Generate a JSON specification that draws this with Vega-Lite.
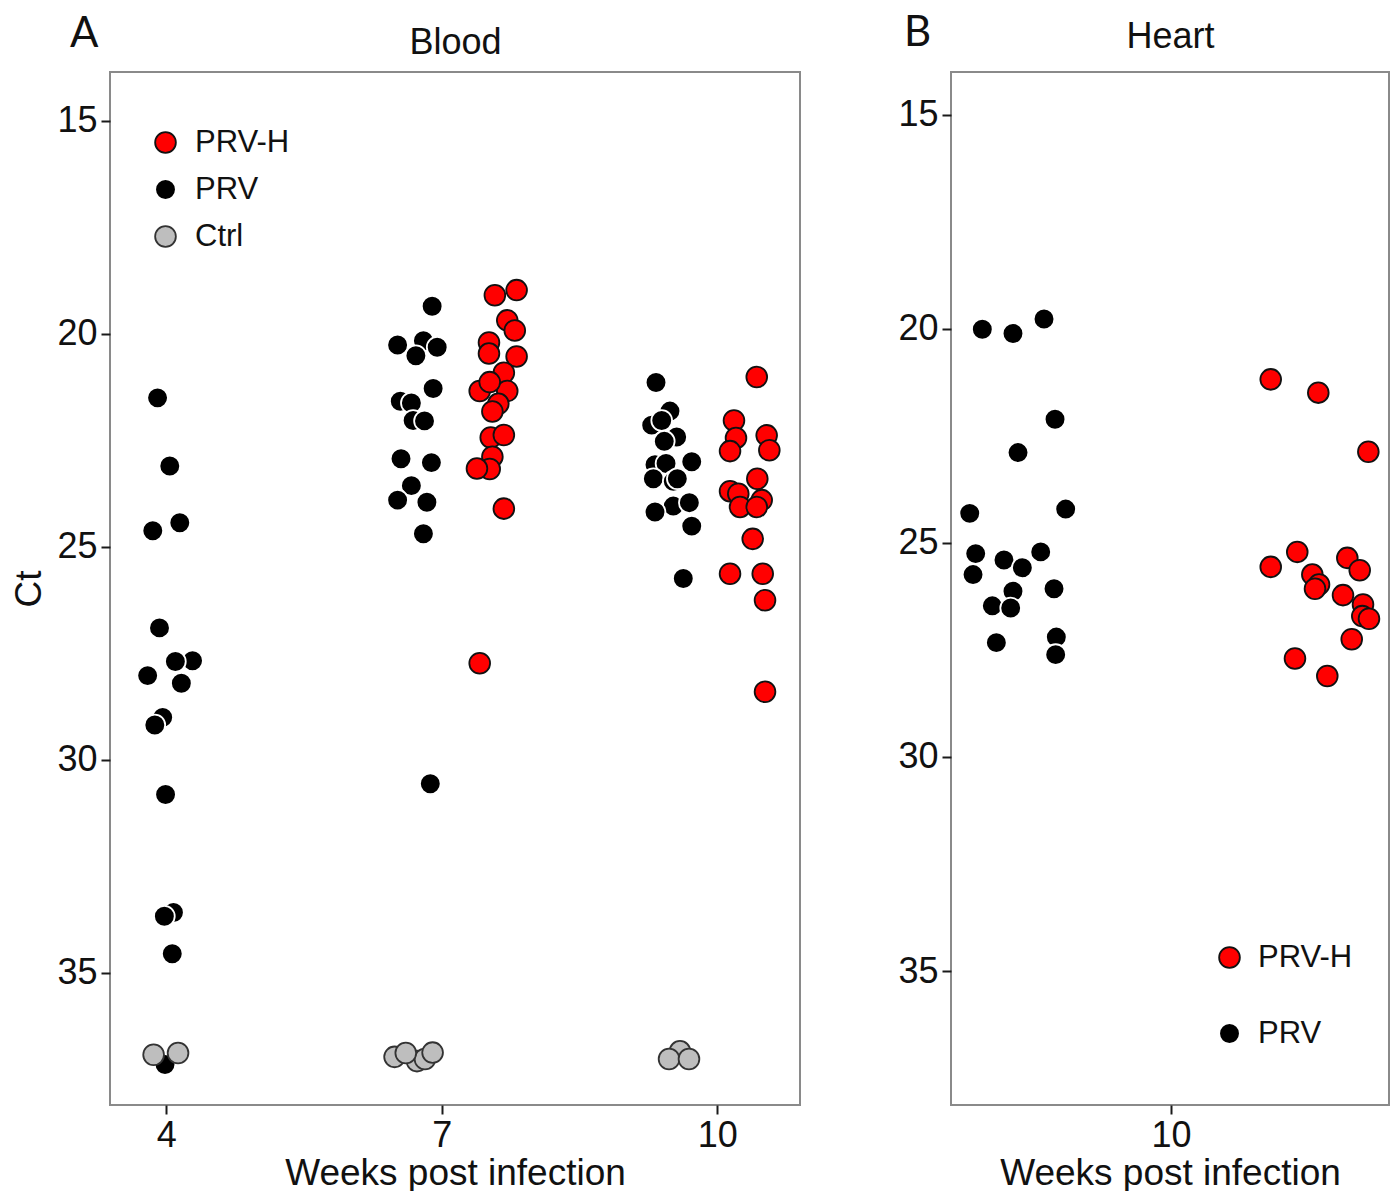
{
  "$schema": "https://vega.github.io/schema/vega-lite/v6.json",
  "padding": {"left": 9, "top": 11, "right": 0, "bottom": 0},
  "background": "white",
  "spacing": 95,
  "config": {
    "font": "Liberation Sans",
    "view": {"stroke": "#8a8a8a", "strokeWidth": 2},
    "axis": {"grid": false, "domain": false, "tickColor": "#1a1a1a", "tickWidth": 2, "tickSize": 9, "labelFontSize": 36, "labelColor": "#111111", "labelFont": "Liberation Sans", "titleFont": "Liberation Sans", "titleFontSize": 37, "titleFontWeight": "normal", "titleColor": "#111111", "labelPadding": 4},
    "title": {"font": "Lato", "fontWeight": "normal", "fontSize": 42, "color": "#111111"},
    "legend": {"labelFont": "Liberation Sans", "labelFontSize": 31, "labelColor": "#111111"}
  },
  "datasets": {
    "blood": [
      {"week": 4, "group": "PRV", "x": 3.906, "ct": 21.50},
      {"week": 4, "group": "PRV", "x": 4.039, "ct": 23.10},
      {"week": 4, "group": "PRV", "x": 4.148, "ct": 24.43},
      {"week": 4, "group": "PRV", "x": 3.854, "ct": 24.62},
      {"week": 4, "group": "PRV", "x": 3.927, "ct": 26.90},
      {"week": 4, "group": "PRV", "x": 4.287, "ct": 27.67},
      {"week": 4, "group": "PRV", "x": 4.100, "ct": 27.69},
      {"week": 4, "group": "PRV", "x": 3.798, "ct": 28.02},
      {"week": 4, "group": "PRV", "x": 4.165, "ct": 28.20},
      {"week": 4, "group": "PRV", "x": 3.962, "ct": 29.00},
      {"week": 4, "group": "PRV", "x": 3.876, "ct": 29.18},
      {"week": 4, "group": "PRV", "x": 3.993, "ct": 30.81},
      {"week": 4, "group": "PRV", "x": 4.079, "ct": 33.58},
      {"week": 4, "group": "PRV", "x": 3.980, "ct": 33.67},
      {"week": 4, "group": "PRV", "x": 4.066, "ct": 34.55},
      {"week": 4, "group": "PRV", "x": 3.987, "ct": 37.15},
      {"week": 7, "group": "PRV", "x": 6.896, "ct": 19.35},
      {"week": 7, "group": "PRV", "x": 6.520, "ct": 20.26},
      {"week": 7, "group": "PRV", "x": 6.801, "ct": 20.16},
      {"week": 7, "group": "PRV", "x": 6.719, "ct": 20.51},
      {"week": 7, "group": "PRV", "x": 6.951, "ct": 20.31},
      {"week": 7, "group": "PRV", "x": 6.907, "ct": 21.28},
      {"week": 7, "group": "PRV", "x": 6.549, "ct": 21.58},
      {"week": 7, "group": "PRV", "x": 6.670, "ct": 21.62},
      {"week": 7, "group": "PRV", "x": 6.689, "ct": 22.03},
      {"week": 7, "group": "PRV", "x": 6.813, "ct": 22.04},
      {"week": 7, "group": "PRV", "x": 6.557, "ct": 22.93},
      {"week": 7, "group": "PRV", "x": 6.888, "ct": 23.02},
      {"week": 7, "group": "PRV", "x": 6.670, "ct": 23.56},
      {"week": 7, "group": "PRV", "x": 6.520, "ct": 23.90},
      {"week": 7, "group": "PRV", "x": 6.839, "ct": 23.95},
      {"week": 7, "group": "PRV", "x": 6.801, "ct": 24.69},
      {"week": 7, "group": "PRV", "x": 6.876, "ct": 30.56},
      {"week": 10, "group": "PRV", "x": 9.334, "ct": 21.14},
      {"week": 10, "group": "PRV", "x": 9.486, "ct": 21.81},
      {"week": 10, "group": "PRV", "x": 9.287, "ct": 22.14},
      {"week": 10, "group": "PRV", "x": 9.396, "ct": 22.03},
      {"week": 10, "group": "PRV", "x": 9.559, "ct": 22.42},
      {"week": 10, "group": "PRV", "x": 9.424, "ct": 22.52},
      {"week": 10, "group": "PRV", "x": 9.723, "ct": 23.00},
      {"week": 10, "group": "PRV", "x": 9.323, "ct": 23.07},
      {"week": 10, "group": "PRV", "x": 9.443, "ct": 23.04},
      {"week": 10, "group": "PRV", "x": 9.305, "ct": 23.40},
      {"week": 10, "group": "PRV", "x": 9.522, "ct": 23.46},
      {"week": 10, "group": "PRV", "x": 9.566, "ct": 23.40},
      {"week": 10, "group": "PRV", "x": 9.522, "ct": 24.04},
      {"week": 10, "group": "PRV", "x": 9.697, "ct": 23.96},
      {"week": 10, "group": "PRV", "x": 9.323, "ct": 24.18},
      {"week": 10, "group": "PRV", "x": 9.723, "ct": 24.51},
      {"week": 10, "group": "PRV", "x": 9.631, "ct": 25.74},
      {"week": 7, "group": "PRV-H", "x": 7.579, "ct": 19.09},
      {"week": 7, "group": "PRV-H", "x": 7.816, "ct": 18.97},
      {"week": 7, "group": "PRV-H", "x": 7.714, "ct": 19.68},
      {"week": 7, "group": "PRV-H", "x": 7.796, "ct": 19.92},
      {"week": 7, "group": "PRV-H", "x": 7.515, "ct": 20.20},
      {"week": 7, "group": "PRV-H", "x": 7.515, "ct": 20.46},
      {"week": 7, "group": "PRV-H", "x": 7.816, "ct": 20.53},
      {"week": 7, "group": "PRV-H", "x": 7.677, "ct": 20.91},
      {"week": 7, "group": "PRV-H", "x": 7.414, "ct": 21.34},
      {"week": 7, "group": "PRV-H", "x": 7.714, "ct": 21.34},
      {"week": 7, "group": "PRV-H", "x": 7.523, "ct": 21.13},
      {"week": 7, "group": "PRV-H", "x": 7.617, "ct": 21.64},
      {"week": 7, "group": "PRV-H", "x": 7.552, "ct": 21.82},
      {"week": 7, "group": "PRV-H", "x": 7.534, "ct": 22.43},
      {"week": 7, "group": "PRV-H", "x": 7.677, "ct": 22.37},
      {"week": 7, "group": "PRV-H", "x": 7.552, "ct": 22.88},
      {"week": 7, "group": "PRV-H", "x": 7.523, "ct": 23.17},
      {"week": 7, "group": "PRV-H", "x": 7.384, "ct": 23.16},
      {"week": 7, "group": "PRV-H", "x": 7.677, "ct": 24.10},
      {"week": 7, "group": "PRV-H", "x": 7.414, "ct": 27.73},
      {"week": 10, "group": "PRV-H", "x": 10.431, "ct": 21.01},
      {"week": 10, "group": "PRV-H", "x": 10.183, "ct": 22.03},
      {"week": 10, "group": "PRV-H", "x": 10.539, "ct": 22.38},
      {"week": 10, "group": "PRV-H", "x": 10.205, "ct": 22.44},
      {"week": 10, "group": "PRV-H", "x": 10.140, "ct": 22.75},
      {"week": 10, "group": "PRV-H", "x": 10.568, "ct": 22.73},
      {"week": 10, "group": "PRV-H", "x": 10.437, "ct": 23.40},
      {"week": 10, "group": "PRV-H", "x": 10.140, "ct": 23.69},
      {"week": 10, "group": "PRV-H", "x": 10.230, "ct": 23.75},
      {"week": 10, "group": "PRV-H", "x": 10.485, "ct": 23.90},
      {"week": 10, "group": "PRV-H", "x": 10.249, "ct": 24.06},
      {"week": 10, "group": "PRV-H", "x": 10.431, "ct": 24.06},
      {"week": 10, "group": "PRV-H", "x": 10.387, "ct": 24.81},
      {"week": 10, "group": "PRV-H", "x": 10.140, "ct": 25.63},
      {"week": 10, "group": "PRV-H", "x": 10.496, "ct": 25.63},
      {"week": 10, "group": "PRV-H", "x": 10.521, "ct": 26.25},
      {"week": 10, "group": "PRV-H", "x": 10.521, "ct": 28.40},
      {"week": 4, "group": "Ctrl", "x": 3.863, "ct": 36.92},
      {"week": 4, "group": "Ctrl", "x": 4.129, "ct": 36.88},
      {"week": 7, "group": "Ctrl", "x": 6.487, "ct": 36.97},
      {"week": 7, "group": "Ctrl", "x": 6.731, "ct": 37.07},
      {"week": 7, "group": "Ctrl", "x": 6.818, "ct": 37.02},
      {"week": 7, "group": "Ctrl", "x": 6.609, "ct": 36.88},
      {"week": 7, "group": "Ctrl", "x": 6.901, "ct": 36.87},
      {"week": 10, "group": "Ctrl", "x": 9.595, "ct": 36.84},
      {"week": 10, "group": "Ctrl", "x": 9.476, "ct": 37.02},
      {"week": 10, "group": "Ctrl", "x": 9.693, "ct": 37.02}
    ],
    "heart": [
      {"week": 10, "group": "PRV", "x": 7.945, "ct": 20.01},
      {"week": 10, "group": "PRV", "x": 8.279, "ct": 20.11},
      {"week": 10, "group": "PRV", "x": 8.617, "ct": 19.77},
      {"week": 10, "group": "PRV", "x": 8.737, "ct": 22.11},
      {"week": 10, "group": "PRV", "x": 8.334, "ct": 22.89},
      {"week": 10, "group": "PRV", "x": 7.808, "ct": 24.31},
      {"week": 10, "group": "PRV", "x": 8.853, "ct": 24.21},
      {"week": 10, "group": "PRV", "x": 7.873, "ct": 25.25},
      {"week": 10, "group": "PRV", "x": 8.581, "ct": 25.21},
      {"week": 10, "group": "PRV", "x": 8.181, "ct": 25.40},
      {"week": 10, "group": "PRV", "x": 8.381, "ct": 25.58},
      {"week": 10, "group": "PRV", "x": 7.844, "ct": 25.74},
      {"week": 10, "group": "PRV", "x": 8.726, "ct": 26.07},
      {"week": 10, "group": "PRV", "x": 8.279, "ct": 26.13},
      {"week": 10, "group": "PRV", "x": 8.054, "ct": 26.47},
      {"week": 10, "group": "PRV", "x": 8.254, "ct": 26.52},
      {"week": 10, "group": "PRV", "x": 8.098, "ct": 27.33},
      {"week": 10, "group": "PRV", "x": 8.751, "ct": 27.20},
      {"week": 10, "group": "PRV", "x": 8.744, "ct": 27.61},
      {"week": 10, "group": "PRV-H", "x": 11.086, "ct": 21.18},
      {"week": 10, "group": "PRV-H", "x": 11.604, "ct": 21.49},
      {"week": 10, "group": "PRV-H", "x": 12.149, "ct": 22.87},
      {"week": 10, "group": "PRV-H", "x": 11.375, "ct": 25.21},
      {"week": 10, "group": "PRV-H", "x": 11.086, "ct": 25.56},
      {"week": 10, "group": "PRV-H", "x": 11.920, "ct": 25.35},
      {"week": 10, "group": "PRV-H", "x": 12.055, "ct": 25.64},
      {"week": 10, "group": "PRV-H", "x": 11.539, "ct": 25.74},
      {"week": 10, "group": "PRV-H", "x": 11.612, "ct": 25.97},
      {"week": 10, "group": "PRV-H", "x": 11.568, "ct": 26.07},
      {"week": 10, "group": "PRV-H", "x": 11.873, "ct": 26.22},
      {"week": 10, "group": "PRV-H", "x": 12.091, "ct": 26.44},
      {"week": 10, "group": "PRV-H", "x": 12.083, "ct": 26.71},
      {"week": 10, "group": "PRV-H", "x": 12.156, "ct": 26.77},
      {"week": 10, "group": "PRV-H", "x": 11.968, "ct": 27.25},
      {"week": 10, "group": "PRV-H", "x": 11.350, "ct": 27.70},
      {"week": 10, "group": "PRV-H", "x": 11.702, "ct": 28.11}
    ]
  },
  "hconcat": [
    {
      "width": 690,
      "height": 1033,
      "data": {"name": "blood"},
      "title": {"text": "A", "anchor": "start", "frame": "group", "dx": -40, "baseline": "alphabetic", "offset": -65},
      "layer": [
        {
          "transform": [{"filter": "datum.group != 'PRV-H'"}],
          "mark": {"type": "point", "shape": "circle", "filled": true, "size": 430, "strokeWidth": 1.8, "opacity": 1},
          "encoding": {
            "x": {"field": "x", "type": "quantitative", "scale": {"domain": [3.388, 10.902], "nice": false, "zero": false}, "axis": {"orient": "bottom", "values": [4, 7, 10], "title": "Weeks post infection", "titlePadding": 2}},
            "y": {"field": "ct", "type": "quantitative", "scale": {"domain": [13.85, 38.1], "reverse": true, "nice": false, "zero": false}, "axis": {"values": [15, 20, 25, 30, 35], "title": "Ct", "titlePadding": 8}},
            "fill": {"field": "group", "type": "nominal", "scale": {"domain": ["PRV-H", "PRV", "Ctrl"], "range": ["#ff0000", "#000000", "#bebebe"]}, "legend": {"title": null, "orient": "none", "legendX": 40, "legendY": 55, "symbolSize": 430, "symbolStrokeWidth": 1.8, "symbolType": "circle", "rowPadding": 15, "labelOffset": 14}},
            "stroke": {"field": "group", "type": "nominal", "scale": {"domain": ["PRV-H", "PRV", "Ctrl"], "range": ["#111111", "#ffffff", "#333333"]}, "legend": {"title": null, "orient": "none", "legendX": 40, "legendY": 55, "symbolSize": 430, "symbolStrokeWidth": 1.8, "symbolType": "circle", "rowPadding": 15, "labelOffset": 14}}
          }
        },
        {
          "transform": [{"filter": "datum.group == 'PRV-H'"}],
          "mark": {"type": "point", "shape": "circle", "filled": true, "size": 430, "strokeWidth": 1.8, "opacity": 1},
          "encoding": {
            "x": {"field": "x", "type": "quantitative", "scale": {"domain": [3.388, 10.902], "nice": false, "zero": false}, "axis": {"orient": "top", "title": "Blood", "labels": false, "ticks": false, "domain": false, "titlePadding": 19, "titleFontSize": 36, "titleBaseline": "alphabetic"}},
            "y": {"field": "ct", "type": "quantitative", "scale": {"domain": [13.85, 38.1], "reverse": true, "nice": false, "zero": false}},
            "fill": {"field": "group", "type": "nominal", "scale": {"domain": ["PRV-H", "PRV", "Ctrl"], "range": ["#ff0000", "#000000", "#bebebe"]}, "legend": {"title": null, "orient": "none", "legendX": 40, "legendY": 55, "symbolSize": 430, "symbolStrokeWidth": 1.8, "symbolType": "circle", "rowPadding": 15, "labelOffset": 14}},
            "stroke": {"field": "group", "type": "nominal", "scale": {"domain": ["PRV-H", "PRV", "Ctrl"], "range": ["#111111", "#ffffff", "#333333"]}, "legend": {"title": null, "orient": "none", "legendX": 40, "legendY": 55, "symbolSize": 430, "symbolStrokeWidth": 1.8, "symbolType": "circle", "rowPadding": 15, "labelOffset": 14}}
          }
        }
      ],
      "resolve": {"axis": {"x": "independent"}}
    },
    {
      "width": 438,
      "height": 1033,
      "data": {"name": "heart"},
      "title": {"text": "B", "anchor": "start", "frame": "group", "dx": -47, "baseline": "alphabetic", "offset": -70},
      "layer": [
        {
          "transform": [{"filter": "datum.group == 'PRV'"}],
          "mark": {"type": "point", "shape": "circle", "filled": true, "size": 430, "strokeWidth": 1.8, "opacity": 1},
          "encoding": {
            "x": {"field": "x", "type": "quantitative", "scale": {"domain": [7.604, 12.374], "nice": false, "zero": false}, "axis": {"orient": "bottom", "values": [10], "title": "Weeks post infection", "titlePadding": 2}},
            "y": {"field": "ct", "type": "quantitative", "scale": {"domain": [14.0, 38.13], "reverse": true, "nice": false, "zero": false}, "axis": {"values": [15, 20, 25, 30, 35], "title": null}},
            "fill": {"field": "group", "type": "nominal", "scale": {"domain": ["PRV-H", "PRV"], "range": ["#ff0000", "#000000"]}, "legend": {"title": null, "orient": "none", "legendX": 263, "legendY": 870, "symbolSize": 430, "symbolStrokeWidth": 1.8, "symbolType": "circle", "rowPadding": 44, "labelOffset": 13}},
            "stroke": {"field": "group", "type": "nominal", "scale": {"domain": ["PRV-H", "PRV"], "range": ["#111111", "#ffffff"]}, "legend": {"title": null, "orient": "none", "legendX": 263, "legendY": 870, "symbolSize": 430, "symbolStrokeWidth": 1.8, "symbolType": "circle", "rowPadding": 44, "labelOffset": 13}}
          }
        },
        {
          "transform": [{"filter": "datum.group == 'PRV-H'"}],
          "mark": {"type": "point", "shape": "circle", "filled": true, "size": 430, "strokeWidth": 1.8, "opacity": 1},
          "encoding": {
            "x": {"field": "x", "type": "quantitative", "scale": {"domain": [7.604, 12.374], "nice": false, "zero": false}, "axis": {"orient": "top", "title": "Heart", "labels": false, "ticks": false, "domain": false, "titlePadding": 25, "titleFontSize": 36, "titleBaseline": "alphabetic"}},
            "y": {"field": "ct", "type": "quantitative", "scale": {"domain": [14.0, 38.13], "reverse": true, "nice": false, "zero": false}},
            "fill": {"field": "group", "type": "nominal", "scale": {"domain": ["PRV-H", "PRV"], "range": ["#ff0000", "#000000"]}, "legend": {"title": null, "orient": "none", "legendX": 263, "legendY": 870, "symbolSize": 430, "symbolStrokeWidth": 1.8, "symbolType": "circle", "rowPadding": 44, "labelOffset": 13}},
            "stroke": {"field": "group", "type": "nominal", "scale": {"domain": ["PRV-H", "PRV"], "range": ["#111111", "#ffffff"]}, "legend": {"title": null, "orient": "none", "legendX": 263, "legendY": 870, "symbolSize": 430, "symbolStrokeWidth": 1.8, "symbolType": "circle", "rowPadding": 44, "labelOffset": 13}}
          }
        }
      ],
      "resolve": {"axis": {"x": "independent"}}
    }
  ],
  "resolve": {"scale": {"x": "independent", "y": "independent", "fill": "independent", "stroke": "independent"}, "legend": {"fill": "independent", "stroke": "independent"}}
}
